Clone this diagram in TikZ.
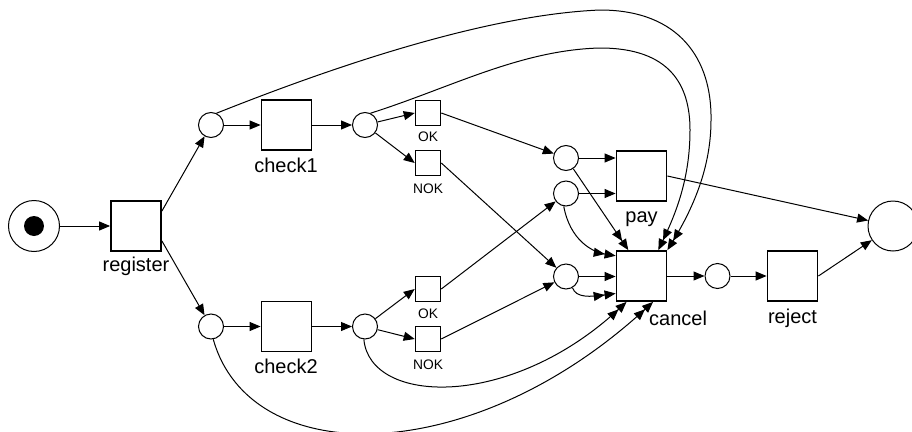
\documentclass[tikz,border=0pt]{standalone}
\usepackage{fontspec}
\setmainfont{Liberation Sans}
\usetikzlibrary{arrows.meta,calc}
\begin{document}
\begin{tikzpicture}[x=1pt,y=-1pt,
  place/.style={circle,draw,line width=1pt,minimum size=25pt,inner sep=0pt},
  trans/.style={rectangle,draw,line width=1.8pt,minimum size=50pt,inner sep=0pt},
  strans/.style={rectangle,draw,line width=1.6pt,minimum size=25pt,inner sep=0pt},
  lbl/.style={font=\fontsize{20}{24}\selectfont,inner sep=0pt,anchor=base},
  slbl/.style={font=\fontsize{13.8}{16}\selectfont,inner sep=0pt,anchor=base},
  arc/.style={line width=1pt,-{Triangle[length=11pt,width=9pt]}},
  reset/.style={line width=1pt,-{Triangle[length=11pt,width=9pt]Triangle[length=11pt,width=9pt]}}
]
\useasboundingbox (0,0) rectangle (912,431);
% places and transitions
\node[place,minimum size=51pt] (start) at (34,226) {};
\node[circle,fill=black,minimum size=20pt,inner sep=0pt] (tok) at (34,226) {};
\node[trans] (register) at (136,226) {};
\node[lbl] (lregister) at (136,271) {register};
\node[place] (p1) at (211,125) {};
\node[trans] (check1) at (286.5,125) {};
\node[lbl] (lcheck1) at (286,172) {check1};
\node[place] (p2) at (365,125) {};
\node[strans] (ok1) at (428,113) {};
\node[slbl] (lok1) at (428,141.5) {OK};
\node[strans] (nok1) at (428,163) {};
\node[slbl] (lnok1) at (428,193) {NOK};
\node[place] (p3) at (566,158) {};
\node[place] (p4) at (566,193.5) {};
\node[trans] (pay) at (641.5,176) {};
\node[lbl] (lpay) at (641.5,222) {pay};
\node[place] (p5) at (211,326.5) {};
\node[trans] (check2) at (286.5,326.5) {};
\node[lbl] (lcheck2) at (286,373.5) {check2};
\node[place] (p6) at (365,326.5) {};
\node[strans] (ok2) at (428,289) {};
\node[slbl] (lok2) at (428,318) {OK};
\node[strans] (nok2) at (428,339) {};
\node[slbl] (lnok2) at (428,369) {NOK};
\node[place] (p7) at (566,276.5) {};
\node[trans] (cancel) at (641.5,276) {};
\node[lbl,anchor=base west] (lcancel) at (649,325) {cancel};
\node[place] (p8) at (717.5,276) {};
\node[trans] (reject) at (792.5,276) {};
\node[lbl] (lreject) at (792.5,323) {reject};
\node[place,minimum size=50pt] (end) at (893,226) {};
% normal arcs
\draw[arc] (start) -- (register);
\draw[arc] (register.30) -- (p1);
\draw[arc] (register.-30) -- (p5);
\draw[arc] (p1) -- (check1);
\draw[arc] (check1) -- (p2);
\draw[arc] (p2) -- (ok1.west);
\draw[arc] (p2) -- (nok1.west);
\draw[arc] (ok1.east) -- (p3);
\draw[arc] (nok1.east) -- (p7);
\draw[arc] (p3) -- (p3 -| pay.west);
\draw[arc] (p4) -- (p4 -| pay.west);
\draw[arc] (p5) -- (check2);
\draw[arc] (check2) -- (p6);
\draw[arc] (p6) -- (ok2.west);
\draw[arc] (p6) -- (nok2.west);
\draw[arc] (ok2.east) -- (p4);
\draw[arc] (nok2.east) -- (p7);
\draw[arc] (p7) -- (p7 -| cancel.west);
\draw[arc] (pay.east) -- (end);
\draw[arc] (cancel) -- (p8);
\draw[arc] (p8) -- (reject);
\draw[arc] (reject.east) -- (end);
% reset arcs
\draw[reset] (p1.65) .. controls (320,72) and (480,15) .. (600,10)
  .. controls (680,10) and (712,60) .. (711,120)
  .. controls (711,165) and (695,205) .. (cancel.45);
\draw[reset] (p2.65) .. controls (450,88) and (520,50) .. (600,48)
  .. controls (670,48) and (690,85) .. (690,130)
  .. controls (690,180) and (675,215) .. (cancel.57);
\draw[reset] (p3) -- (cancel.117);
\draw[reset] (p4.-100) .. controls (570,240) and (592,252) .. (cancel.142);
\draw[reset] (p7.-60) .. controls (576,298) and (590,297) .. (cancel.214);
\draw[reset] (p6.-95) .. controls (370,405) and (510,410) .. (cancel.-120);
\draw[reset] (p5.-80) .. controls (250,470) and (470,470) .. (cancel.-66);
\end{tikzpicture}
\end{document}
